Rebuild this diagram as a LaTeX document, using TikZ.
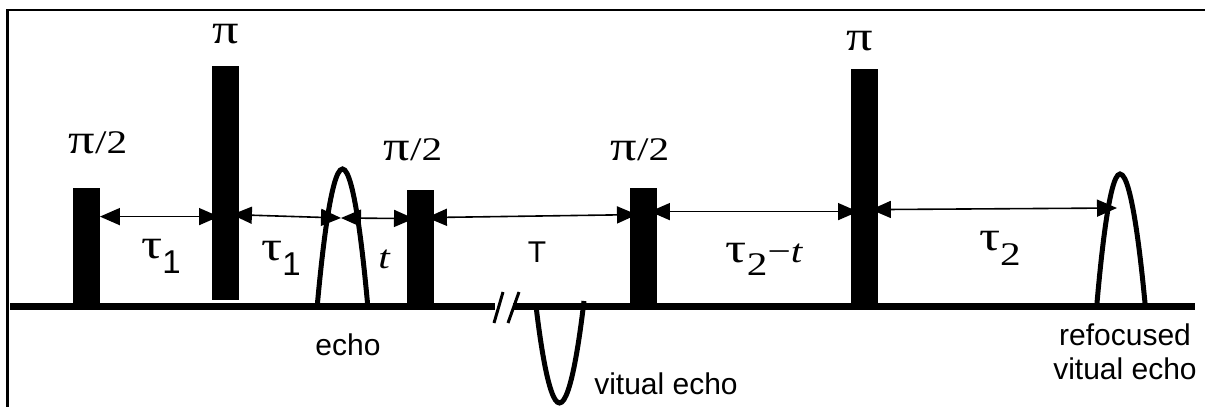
\documentclass[tikz,border=0pt]{standalone}
\usepackage{fontspec}
\setmainfont{Liberation Serif}
\newfontfamily\gk{Liberation Serif}[FakeStretch=1.25]
\newfontfamily\hv{Liberation Sans}
\newcommand{\grk}[1]{{\fontsize{42}{44}\selectfont #1}}
\usetikzlibrary{arrows.meta}
\begin{document}
\begin{tikzpicture}[x=1pt,y=-1pt,
  pulse/.style={fill=black, draw=none, inner sep=0pt, minimum width=26.5pt, anchor=south west},
  echoline/.style={line width=5pt},
  dur/.style={line width=1.6pt, {Triangle[length=20pt,width=17pt]}-{Triangle[length=20pt,width=17pt]}},
  ang/.style={font=\gk\fontsize{33}{35}\selectfont, inner sep=0pt, anchor=base},
  lbl/.style={font=\hv\fontsize{30}{34}\selectfont, inner sep=0pt, anchor=base, align=center},
]
\useasboundingbox (0,0) rectangle (1205,407);
% frame
\draw[line width=2.5pt] (7.5,410) -- (7.5,10) -- (1210,10);
% base line with break
\draw[line width=7pt] (10,306) -- (495,306);
\draw[line width=7pt] (513,306) -- (1195,306);
\draw[line width=3pt] (494,323) -- (503,292);
\draw[line width=3pt] (508,323) -- (519,292);
% pulses
\node[pulse, minimum height=115pt] (p1) at (73,303) {};
\node[pulse, minimum height=234pt] (p2) at (212,300) {};
\node[pulse, minimum height=113pt] (p3) at (407,303) {};
\node[pulse, minimum height=115pt] (p4) at (630,303) {};
\node[pulse, minimum height=234pt] (p5) at (851,303) {};
% echoes
\draw[echoline] (317.5,303) parabola bend (342.5,169) (367.5,303);
\draw[echoline] (536,306) parabola bend (559.5,403) (584,301);
\draw[echoline] (1097,303) parabola bend (1120,174) (1145,303);
\coordinate (m1) at (341,218);
\coordinate (m2) at (1117,208);
% time intervals
\draw[dur] ([yshift=-29pt]p1.north east) -- ([xshift=7pt,yshift=-151pt]p2.north west);
\draw[dur] ([xshift=-7pt,yshift=-149pt]p2.north east) -- (m1);
\draw[dur] (m1) -- ([xshift=7pt,yshift=-29pt]p3.north west);
\draw[dur] ([xshift=-7pt,yshift=-28pt]p3.north east) -- ([xshift=7pt,yshift=-27pt]p4.north west);
\draw[dur] ([xshift=-7pt,yshift=-24pt]p4.north east) -- ([xshift=7pt,yshift=-143pt]p5.north west);
\draw[dur] ([xshift=-7pt,yshift=-141pt]p5.north east) -- (m2);
% pulse angles
\node[ang] (a1) at (98,153) {\grk{π}/2};
\node[ang] (a2) at (226,43) {\grk{π}};
\node[ang] (a3) at (413,160) {\grk{π}/2};
\node[ang] (a4) at (640,160) {\grk{π}/2};
\node[ang] (a5) at (860,50) {\grk{π}};
% intervals labels
\node[ang] (t1) at (161,258) {\grk{τ}\raisebox{-15pt}{\hv 1}};
\node[ang] (t2) at (281,260) {\grk{τ}\raisebox{-15pt}{\hv 1}};
\node[ang] (t3) at (384,268) {\itshape t};
\node[lbl] (t4) at (537,262) {T};
\node[ang] (t5) at (764,262) {\grk{τ}\raisebox{-13pt}{2}−\itshape t};
\node[ang] (t6) at (1000,250) {\grk{τ}\raisebox{-15pt}{2}};
% echo labels
\node[lbl] (l1) at (348,355) {echo};
\node[lbl] (l2) at (666,394) {vitual echo};
\node[lbl, anchor=center] (l3) at (1125,352) {refocused\\vitual echo};
\end{tikzpicture}
\end{document}
